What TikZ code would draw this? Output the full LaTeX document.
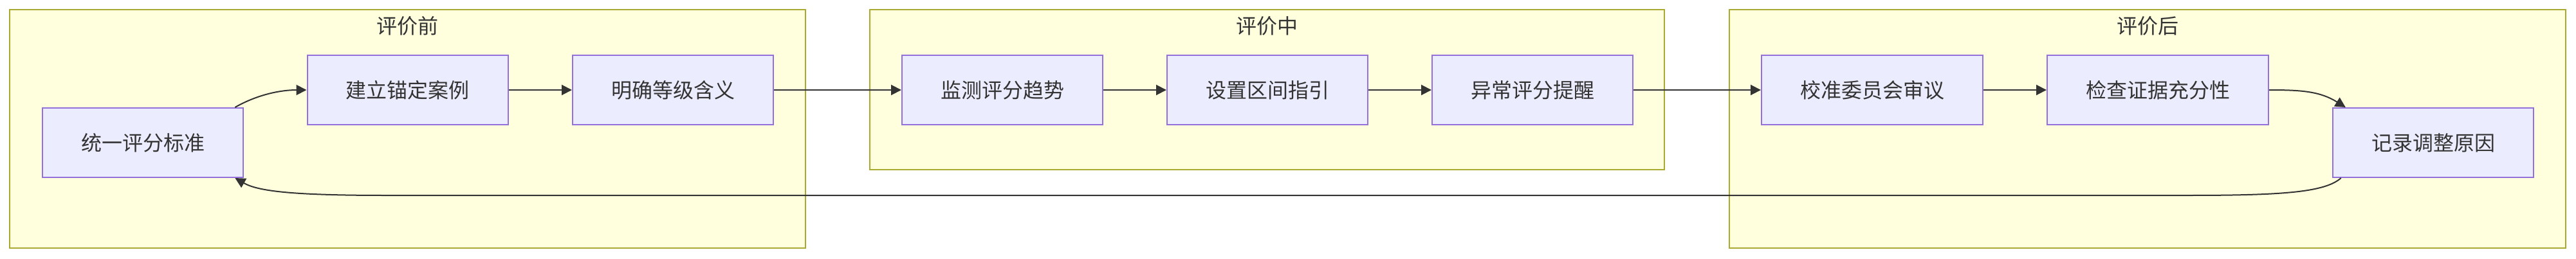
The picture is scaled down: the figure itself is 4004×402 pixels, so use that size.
\documentclass[tikz,border=0pt]{standalone}
\usepackage{fontspec}
\setmainfont{Noto Sans CJK SC}
\usetikzlibrary{arrows.meta}
\definecolor{clfill}{HTML}{FFFFDE}
\definecolor{cldraw}{HTML}{AAAA33}
\definecolor{ndfill}{HTML}{ECECFF}
\definecolor{nddraw}{HTML}{9370DB}
\definecolor{txt}{HTML}{333333}
\begin{document}
\begin{tikzpicture}[x=0.5pt,y=-0.5pt,
  proc/.style={draw=nddraw, fill=ndfill, line width=1pt, minimum width=156pt, minimum height=54pt, inner sep=0pt, font=\fontsize{16pt}{19pt}\selectfont, text=txt},
  wideproc/.style={proc, minimum width=172pt},
  cluster/.style={draw=cldraw, fill=clfill, line width=1pt},
  ctitle/.style={font=\fontsize{16pt}{19pt}\selectfont, text=txt, inner sep=0pt},
  edge/.style={draw=txt, line width=1pt, -{Triangle[length=8pt,width=8pt]}}]
\useasboundingbox[fill=white] (0,0) rectangle (4004,402);
% clusters
\draw[cluster] (15,15) rectangle (1252,386);
\draw[cluster] (1352,15) rectangle (2587,264);
\draw[cluster] (2688,15) rectangle (3988,386);
\node[ctitle] (t1) at (633.5,40) {评价前};
\node[ctitle] (t2) at (1969.5,40) {评价中};
\node[ctitle] (t3) at (3338,40) {评价后};
% nodes
\node[proc] (u) at (222,222) {统一评分标准};
\node[proc] (a) at (633.5,140) {建立锚定案例};
\node[proc] (b) at (1046,140) {明确等级含义};
\node[proc] (c) at (1558,140) {监测评分趋势};
\node[proc] (d) at (1970,140) {设置区间指引};
\node[proc] (e) at (2382,140) {异常评分提醒};
\node[wideproc] (f) at (2910,140) {校准委员会审议};
\node[wideproc] (g) at (3354,140) {检查证据充分性};
\node[proc] (h) at (3782,222) {记录调整原因};
\coordinate (r1) at (3400,304);
\coordinate (r2) at (600,304);
% edges
\draw[edge] (u.21.5) .. controls +(35,-20) and +(-40,0) .. (a.west);
\draw[edge] (a.east) -- (b.west);
\draw[edge] (b.east) -- (c.west);
\draw[edge] (c.east) -- (d.west);
\draw[edge] (d.east) -- (e.west);
\draw[edge] (e.east) -- (f.west);
\draw[edge] (f.east) -- (g.west);
\draw[edge] (g.east) .. controls +(50,0) and +(-40,-25) .. (h.158.5);
\draw[edge] (h.201.5) .. controls +(-25,22) and +(150,0) .. (r1) -- (r2) .. controls +(-150,0) and +(35,20) .. (u.-21.6);
\end{tikzpicture}
\end{document}
